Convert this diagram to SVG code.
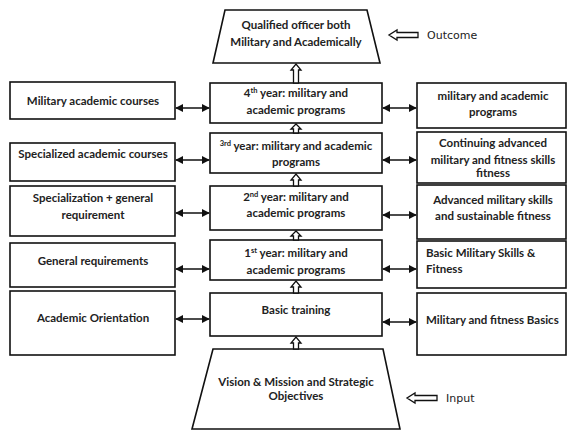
<svg xmlns="http://www.w3.org/2000/svg" width="568" height="432" viewBox="0 0 568 432">
<defs>
<marker id="ah" viewBox="0 0 10 10" refX="9" refY="5" markerWidth="8" markerHeight="8" markerUnits="userSpaceOnUse" orient="auto-start-reverse">
<path d="M0,0 L10,5 L0,10 Z" fill="#111"/>
</marker>
<style>
.box{fill:#fff;stroke:#111;stroke-width:1.6}
.t{font-family:Lato,"Liberation Sans",sans-serif;font-weight:bold;font-size:11.5px;fill:#222;text-anchor:middle}
.tl{text-anchor:start}
.sup{font-size:7.5px}
.hol{fill:#fff;stroke:#111;stroke-width:1.3}
.con{stroke:#111;stroke-width:1.5;fill:none;marker-start:url(#ah);marker-end:url(#ah)}
.lab{font-family:"DejaVu Sans",sans-serif;font-size:11px;fill:#222}
</style>
</defs>
<rect width="568" height="432" fill="#fff"/>

<g id="outcome">
<polygon class="box" points="225,10 367,10 380,63 213,63"/>
<text class="t" x="296" y="29">Qualified officer both</text>
<text class="t" x="296" y="46">Military and Academically</text>
</g>
<g id="outcome-label">
<path class="hol" d="M418,32.5 H397 V30 L389,35 L397,40 V37.5 H418 Z"/>
<text class="lab" x="427" y="39">Outcome</text>
</g>

<g id="input">
<polygon class="box" points="213,349 383,349 400,429 192,429"/>
<text class="t" x="296" y="386">Vision &amp; Mission and Strategic</text>
<text class="t" x="296" y="400">Objectives</text>
</g>
<g id="input-label">
<path class="hol" d="M437,395.5 H415 V393 L407,398 L415,403 V400.5 H437 Z"/>
<text class="lab" x="446" y="402">Input</text>
</g>

<g id="left1"><rect class="box" x="10" y="82" width="165" height="37"/><text class="t" x="93" y="105">Military academic courses</text></g>
<g id="left2"><rect class="box" x="10" y="143" width="165" height="38"/><text class="t" x="93" y="158">Specialized academic courses</text></g>
<g id="left3"><rect class="box" x="10" y="186" width="165" height="50"/><text class="t" x="93" y="202">Specialization + general</text><text class="t" x="93" y="219">requirement</text></g>
<g id="left4"><rect class="box" x="10" y="243" width="165" height="44"/><text class="t" x="93" y="265">General requirements</text></g>
<g id="left5"><rect class="box" x="10" y="291" width="165" height="64"/><text class="t" x="93" y="322">Academic Orientation</text></g>

<g id="year4"><rect class="box" x="210" y="83" width="172" height="40"/><text class="t" x="296" y="97">4<tspan class="sup" dy="-4">th</tspan><tspan dy="4"> year: military and</tspan></text><text class="t" x="296" y="114">academic programs</text></g>
<g id="year3"><rect class="box" x="210" y="133" width="172" height="40"/><text class="t" x="296" y="150"><tspan class="sup" dy="-4">3rd</tspan><tspan dy="4"> year: military and academic</tspan></text><text class="t" x="296" y="166">programs</text></g>
<g id="year2"><rect class="box" x="210" y="186" width="172" height="44"/><text class="t" x="296" y="201">2<tspan class="sup" dy="-4">nd</tspan><tspan dy="4"> year: military and</tspan></text><text class="t" x="296" y="217">academic programs</text></g>
<g id="year1"><rect class="box" x="210" y="240" width="172" height="40"/><text class="t" x="296" y="257">1<tspan class="sup" dy="-4">st</tspan><tspan dy="4"> year: military and</tspan></text><text class="t" x="296" y="274">academic programs</text></g>
<g id="basic"><rect class="box" x="210" y="293" width="172" height="43"/><text class="t" x="296" y="314">Basic training</text></g>

<g id="right1"><rect class="box" x="417" y="83" width="149" height="45"/><text class="t" x="493" y="100">military and academic</text><text class="t" x="493" y="116">programs</text></g>
<g id="right2"><rect class="box" x="417" y="132" width="149" height="51"/><text class="t" x="493" y="147">Continuing advanced</text><text class="t" x="493" y="164">military and fitness skills</text><text class="t" x="493" y="177">fitness</text></g>
<g id="right3"><rect class="box" x="417" y="185" width="149" height="54"/><text class="t" x="493" y="204">Advanced military skills</text><text class="t" x="493" y="220">and sustainable fitness</text></g>
<g id="right4"><rect class="box" x="417" y="241" width="149" height="47"/><text class="t tl" x="426" y="257">Basic Military Skills &amp;</text><text class="t tl" x="426" y="273">Fitness</text></g>
<g id="right5"><rect class="box" x="417" y="293" width="149" height="62"/><text class="t tl" x="426" y="324">Military and fitness Basics</text></g>

<g id="connectors">
<path class="hol" d="M293.5,83 V70 H291 L296,64 L301,70 H298.5 V83 Z"/>
<path class="hol" d="M293.5,133 V129 H291 L296,124 L301,129 H298.5 V133 Z"/>
<path class="hol" d="M293.5,186 V180 H291 L296,174 L301,180 H298.5 V186 Z"/>
<path class="hol" d="M293.5,240 V236 H291 L296,231 L301,236 H298.5 V240 Z"/>
<path class="hol" d="M293.5,293 V287 H291 L296,281 L301,287 H298.5 V293 Z"/>
<path class="hol" d="M293.5,349 V343 H291 L296,337 L301,343 H298.5 V349 Z"/>

<line class="con" x1="176" y1="108" x2="209" y2="108"/>
<line class="con" x1="176" y1="160" x2="209" y2="160"/>
<line class="con" x1="176" y1="213" x2="209" y2="213"/>
<line class="con" x1="176" y1="269" x2="209" y2="269"/>
<line class="con" x1="176" y1="319" x2="209" y2="319"/>

<line class="con" x1="383" y1="108" x2="416" y2="108"/>
<line class="con" x1="383" y1="160" x2="416" y2="160"/>
<line class="con" x1="383" y1="215" x2="416" y2="215"/>
<line class="con" x1="383" y1="269" x2="416" y2="269"/>
<line class="con" x1="383" y1="322" x2="416" y2="322"/>
</g>
</svg>
